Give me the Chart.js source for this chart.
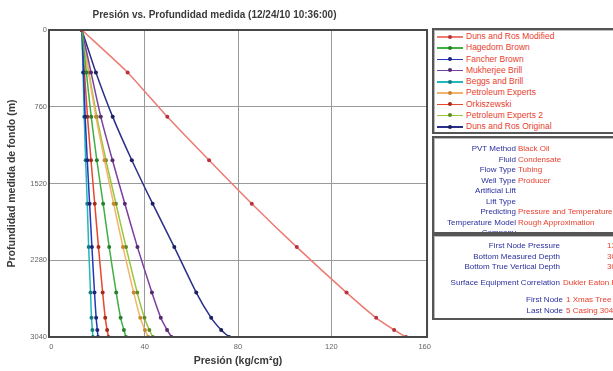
<!DOCTYPE html>
<html lang="es">
<head>
<meta charset="UTF-8">
<title>Presión vs. Profundidad medida</title>
<script src="https://cdn.jsdelivr.net/npm/chart.js@4.4.0/dist/chart.umd.min.js"></script>
<style>
  body{margin:0;background:#fff;width:613px;height:371px;overflow:hidden;position:relative;
    font-family:"Liberation Sans",Arial,sans-serif;}
  #wrap{position:absolute;left:0;top:0;width:436px;height:371px;}
  .box{position:absolute;left:432px;width:200px;border:2px solid #555;background:#fff;overflow:hidden;
    box-shadow:inset 1px 1px 0 #bbb;}
  .row{position:absolute;left:0;white-space:nowrap;font-size:8px;line-height:10px;height:10px;}
  .lbl{display:inline-block;text-align:right;color:#2b2f9e;}
  .val{display:inline-block;color:#e8402e;padding-left:2px;}
  .sym{position:absolute;left:3px;top:5px;width:26px;height:1.5px;}
  .dot{position:absolute;left:11px;top:-1.5px;width:4px;height:4px;border-radius:50%;}
  .ltxt{position:absolute;left:32px;top:0;color:#e8402e;font-size:8.5px;line-height:11px;}
</style>
</head>
<body>
<div id="wrap"><canvas id="chart" width="436" height="371"></canvas></div>
<div class="box" id="legendBox" style="top:28px;height:102px;"></div>
<div class="box" id="infoBox" style="top:136px;height:94px;"></div>
<div class="box" id="nodeBox" style="top:234px;height:82px;"></div>
<script>
// depth of the calculation nodes (m)
var depths = [0, 420, 860, 1290, 1720, 2150, 2600, 2850, 2970, 3040];
var xTicks = [0, 40, 80, 120, 160];
var yTicks = [0, 760, 1520, 2280, 3040];

var names = ['Duns and Ros Modified', 'Hagedorn Brown', 'Fancher Brown', 'Mukherjee Brill',
  'Beggs and Brill', 'Petroleum Experts', 'Orkiszewski', 'Petroleum Experts 2', 'Duns and Ros Original'];
var lineColors = ['#ec7b72', '#3fb043', '#2536b8', '#7c3f9e', '#22b6bd', '#f3b36a', '#e8472f', '#98c63e', '#2a3088'];
var dotColors  = ['#b8323f', '#2a7f2e', '#1b2580', '#552a70', '#137d82', '#c98530', '#a52a1c', '#5e8a22', '#1a1f5e'];

// pressure (kg/cm2g) at each depth
var dunsRosMod   = [13.1, 32.7, 49.7, 67.6, 85.9, 105.2, 126.5, 139.2, 146.9, 152.0];
var hagedorn     = [13.1, 15.0, 17.1, 19.5, 22.2, 24.8, 27.8, 29.7, 31.1, 32.0];
var fancher      = [13.1, 13.8, 14.5, 15.4, 16.4, 17.4, 18.5, 19.2, 19.7, 20.0];
var mukherjee    = [13.1, 17.0, 21.2, 26.2, 31.5, 36.9, 43.1, 46.9, 49.6, 51.5];
var beggs        = [13.1, 13.6, 14.1, 14.7, 15.4, 16.0, 16.8, 17.2, 17.6, 17.8];
var petex        = [13.1, 15.9, 19.1, 22.8, 26.7, 30.7, 35.3, 38.1, 40.1, 41.5];
var orkiszewski  = [13.1, 14.2, 15.5, 17.0, 18.6, 20.2, 22.0, 23.1, 23.9, 24.5];
var petex2       = [13.1, 16.1, 19.5, 23.4, 27.7, 32.0, 36.8, 39.9, 42.0, 43.5];
var dunsRosOrig  = [13.1, 19.1, 26.3, 34.5, 43.4, 52.7, 62.1, 68.5, 72.8, 76.2];
var series = [dunsRosMod, hagedorn, fancher, mukherjee, beggs, petex, orkiszewski, petex2, dunsRosOrig];

var infoLabels = ['PVT Method', 'Fluid', 'Flow Type', 'Well Type', 'Artificial Lift', 'Lift Type',
  'Predicting', 'Temperature Model', 'Company'];
var infoValues = ['Black Oil', 'Condensate', 'Tubing', 'Producer', '', '',
  'Pressure and Temperature', 'Rough Approximation', ''];

var fontFam = "'Liberation Sans', Arial, sans-serif";
Chart.defaults.font.family = fontFam;

var datasets = series.map(function (vals, i) {
  return {
    label: names[i],
    data: depths.map(function (d, j) { return {x: vals[j], y: d}; }),
    showLine: true,
    borderColor: lineColors[i],
    borderWidth: 1.5,
    pointRadius: 2,
    pointBorderWidth: 0,
    pointBackgroundColor: dotColors[i],
    tension: 0.2
  };
});

var frame = {
  id: 'frame',
  afterDraw: function (c) {
    var a = c.chartArea, ctx = c.ctx;
    ctx.save();
    ctx.strokeStyle = '#474747';
    ctx.lineWidth = 2;
    ctx.strokeRect(a.left, a.top, a.right - a.left, a.bottom - a.top);
    ctx.restore();
  }
};

function innerGrid(edgeA, edgeB) {
  return function (ctx) {
    var v = ctx.tick ? ctx.tick.value : null;
    return (v === edgeA || v === edgeB) ? 'rgba(0,0,0,0)' : '#9a9a9a';
  };
}

function plain(v) { return String(v); }

new Chart(document.getElementById('chart'), {
  type: 'scatter',
  data: {datasets: datasets},
  options: {
    responsive: false,
    animation: false,
    layout: {padding: {top: 0, right: 7, bottom: 0, left: 0}},
    plugins: {
      legend: {display: false},
      tooltip: {enabled: false},
      title: {
        display: true,
        text: 'Presión vs. Profundidad medida (12/24/10 10:36:00)',
        color: '#3a3a3a',
        font: {size: 10, weight: 'bold'},
        padding: {top: 9, bottom: 9}
      }
    },
    scales: {
      x: {
        type: 'linear', min: -1, max: 161,
        afterBuildTicks: function (s) { s.ticks = xTicks.map(function (v) { return {value: v}; }); },
        afterFit: function (s) { s.height = 34; },
        grid: {color: innerGrid(0, 160), lineWidth: 1, drawTicks: false},
        border: {display: false},
        ticks: {color: '#666', font: {size: 7.5}, padding: 5, maxRotation: 0, callback: plain},
        title: {display: true, text: 'Presión (kg/cm²g)', color: '#3a3a3a',
          font: {size: 10.5, weight: 'bold'}, padding: {top: 0, bottom: 4}}
      },
      y: {
        type: 'linear', reverse: true, min: 0, max: 3040,
        afterBuildTicks: function (s) { s.ticks = yTicks.map(function (v) { return {value: v}; }); },
        afterFit: function (s) { s.width = 49; },
        grid: {color: innerGrid(0, 3040), lineWidth: 1, drawTicks: false},
        border: {display: false},
        ticks: {color: '#666', font: {size: 7.5}, padding: 2, callback: plain},
        title: {display: true, text: 'Profundidad medida de fondo (m)', color: '#3a3a3a',
          font: {size: 10.5, weight: 'bold'}, padding: {top: 6, bottom: 0}}
      }
    }
  },
  plugins: [frame]
});

// legend panel
var lb = document.getElementById('legendBox');
names.forEach(function (n, i) {
  var r = document.createElement('div');
  r.className = 'row';
  r.style.top = (1 + i * 11.25) + 'px';
  r.style.height = '11px';
  r.innerHTML = '<div class="sym" style="background:' + lineColors[i] + '"><div class="dot" style="background:' +
    dotColors[i] + '"></div></div><div class="ltxt">' + n + '</div>';
  lb.appendChild(r);
});

// well info panel
var ib = document.getElementById('infoBox');
infoLabels.forEach(function (l, i) {
  var r = document.createElement('div');
  r.className = 'row';
  r.style.top = (6 + i * 10.5) + 'px';
  r.innerHTML = '<span class="lbl" style="width:82px">' + l + '</span><span class="val">' + infoValues[i] + '</span>';
  ib.appendChild(r);
});

// node panel
var nodeRows = [
  ['First Node Pressure', '13.10 (kg/cm2g)', 126, 47, 5],
  ['Bottom Measured Depth', '3040.00 (m)', 126, 47, 15.5],
  ['Bottom True Vertical Depth', '3040.00 (m)', 126, 47, 26],
  ['Surface Equipment Correlation', 'Dukler Eaton Flanigan', 126, 3, 42],
  ['First Node', '1 Xmas Tree', 129, 3, 59],
  ['Last Node', '5 Casing 3040.00 m', 129, 3, 69.5]
];
var nb = document.getElementById('nodeBox');
nodeRows.forEach(function (d) {
  var r = document.createElement('div');
  r.className = 'row';
  r.style.top = d[4] + 'px';
  r.innerHTML = '<span class="lbl" style="width:' + d[2] + 'px">' + d[0] + '</span><span class="val" style="padding-left:' +
    d[3] + 'px">' + d[1] + '</span>';
  nb.appendChild(r);
});
</script>
</body>
</html>
